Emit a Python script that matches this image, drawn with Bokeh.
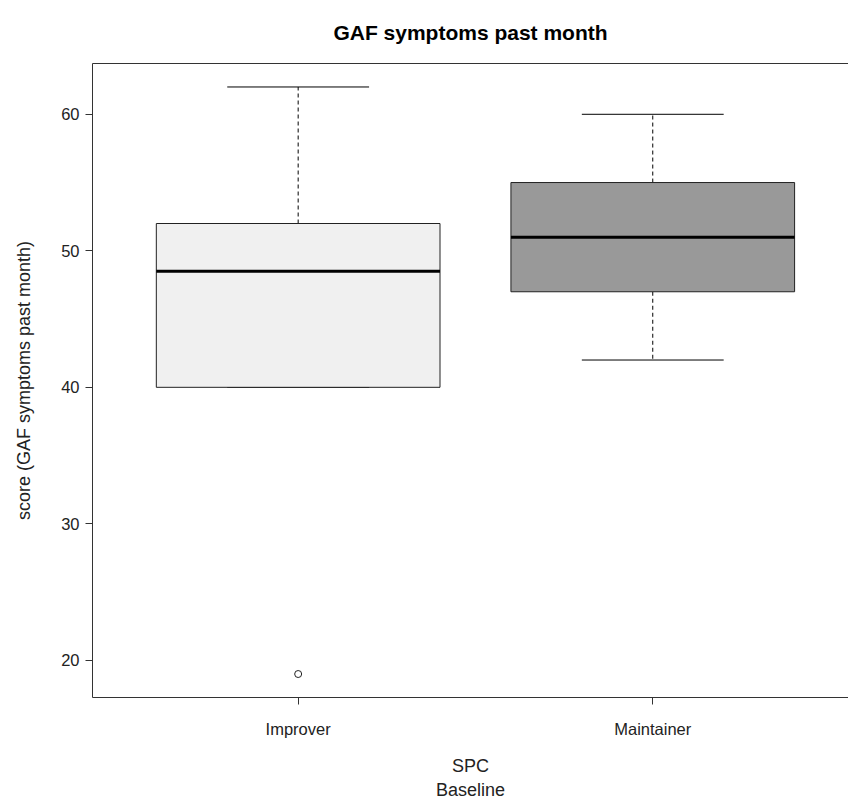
from bokeh.plotting import figure
from bokeh.models import Range1d, FixedTicker, LinearAxis, ColumnDataSource
from bokeh.embed import file_html
from bokeh.resources import INLINE

title_text = "GAF symptoms past month"
categories = ["Improver", "Maintainer"]
lower_whisker = [40, 42]
q1 = [40, 47]
median = [48.5, 51]
q3 = [52, 55]
upper_whisker = [62, 60]
outlier_group = ["Improver"]
outlier_value = [19]
fills = ["#f0f0f0", "#999999"]

pos = [i + 1 for i in range(len(categories))]
BW = 0.8
CW = 0.4

src = ColumnDataSource(dict(
    x=pos, lw=lower_whisker, q1=q1, med=median, q3=q3, uw=upper_whisker, fill=fills,
    bl=[p - BW / 2 for p in pos], br=[p + BW / 2 for p in pos],
    cl=[p - CW / 2 for p in pos], cr=[p + CW / 2 for p in pos],
))
osrc = ColumnDataSource(dict(x=[categories.index(g) + 1 for g in outlier_group], y=outlier_value))

FONT = "Liberation Sans"
AX = "#333333"

p = figure(width=848, height=803, output_backend="svg", toolbar_location=None,
           x_range=Range1d(0.42, 2.552), y_range=Range1d(17.28, 63.72),
           min_border_left=92, min_border_right=0, min_border_top=63, min_border_bottom=106,
           title=title_text)
p.title.align = "center"
p.title.text_font = FONT
p.title.text_font_size = "21px"
p.title.text_font_style = "bold"
p.title.text_color = "#000000"
p.title.vertical_align = "top"
p.title.standoff = 35
p.outline_line_color = None
p.grid.visible = False
p.background_fill_color = "white"

# whiskers
p.segment(x0="x", y0="q3", x1="x", y1="uw", source=src, line_color="#000000", line_dash="4 3", line_width=1)
p.segment(x0="x", y0="q1", x1="x", y1="lw", source=src, line_color="#000000", line_dash="4 3", line_width=1)
p.segment(x0="cl", y0="uw", x1="cr", y1="uw", source=src, line_color="#000000", line_width=1)
p.segment(x0="cl", y0="lw", x1="cr", y1="lw", source=src, line_color="#000000", line_width=1)
# boxes
p.vbar(x="x", width=BW, bottom="q1", top="q3", source=src, fill_color="fill", line_color="#222222", line_width=1)
p.segment(x0="bl", y0="med", x1="br", y1="med", source=src, line_color="#000000", line_width=3)
# outliers
p.scatter(x="x", y="y", source=osrc, marker="circle", size=7, fill_color="white", line_color="#222222", line_width=1)

for ax in (p.xaxis[0], p.yaxis[0]):
    ax.axis_line_color = AX
    ax.major_tick_line_color = AX
    ax.major_tick_out = 7
    ax.major_tick_in = 0
    ax.minor_tick_line_color = None
    ax.major_label_text_font = FONT
    ax.major_label_text_font_size = "16.5px"
    ax.major_label_text_color = "#222222"
    ax.axis_label_text_font = FONT
    ax.axis_label_text_font_size = "18px"
    ax.axis_label_text_font_style = "normal"
    ax.axis_label_text_color = "#222222"

p.xaxis.ticker = FixedTicker(ticks=pos)
p.xaxis.major_label_overrides = {pp: c for pp, c in zip(pos, categories)}
p.xaxis.major_label_standoff = 15
p.xaxis.axis_label = "SPC\nBaseline"
p.xaxis.axis_label_standoff = 15

p.yaxis.ticker = FixedTicker(ticks=[20, 30, 40, 50, 60])
p.yaxis.major_label_orientation = "horizontal"
p.yaxis.major_label_standoff = 6
p.yaxis.axis_label = "score (GAF symptoms past month)"
p.yaxis.axis_label_standoff = 24

top = LinearAxis(ticker=FixedTicker(ticks=[]), major_label_text_font_size="0px",
                 axis_line_color=AX, major_tick_line_color=None, minor_tick_line_color=None)
p.add_layout(top, "above")

open("out.html", "w").write(file_html(p, INLINE))
